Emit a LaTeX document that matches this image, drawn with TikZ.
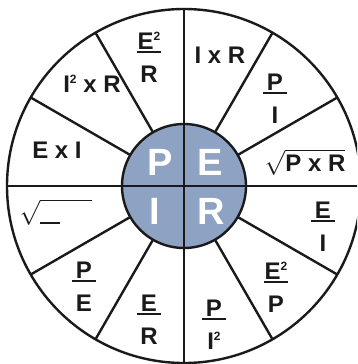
\documentclass[tikz,border=0pt]{standalone}
\usepackage{amsmath}
\usepackage{fontspec}
\setmainfont{Liberation Sans}
\usetikzlibrary{calc}
\definecolor{ohmblue}{HTML}{8EA2C4}
\definecolor{ohmink}{HTML}{1A1A1A}
\newcommand\sqd{\raisebox{8.6pt}{\fontsize{12}{12}\selectfont 2}}
\newcommand\ohmfrac[2]{\begin{tabular}{@{}c@{}}#1\\[-26pt]\rule{24pt}{2pt}\\[-1pt]#2\end{tabular}}

\begin{document}
\begin{tikzpicture}[x=1pt, y=-1pt,
    ring/.style={line width=2.4pt, draw=ohmink},
    lbl/.style={font=\fontsize{24}{30}\selectfont\bfseries, inner sep=0pt, text=ohmink},
    core/.style={font=\fontsize{38}{40}\selectfont\bfseries, inner sep=0pt, text=white}]
  \clip (0,0) rectangle (357,364);
  \coordinate (c) at (184,186);
  % outer ring and its spokes
  \draw[ring] (c) circle[radius=177];
  \foreach \a in {30,60,120,150,210,240,300,330}
    \draw[ring] ($(c)+(\a:62)$) -- ($(c)+(\a:177)$);
  % centre disc
  \fill[ohmblue] (c) circle[radius=62];
  \draw[ring] (c) circle[radius=62];
  \draw[ring] ($(c)+(0,-177)$) -- ($(c)+(0,177)$);
  \draw[ring] ($(c)+(-177,0)$) -- ($(c)+(177,0)$);
  \node[core] (p) at (160,162) {P};
  \node[core] (e) at (210,162) {E};
  \node[core] (i) at (155,211) {I};
  \node[core] (r) at (211,211) {R};
  % formulas, clockwise from the top
  \node[lbl] (ixr)  at (220,55)    {I x R};
  \node[lbl] (pi)   at (275,100.5) {\ohmfrac{P}{I}};
  \node[lbl] (spr)  at (305,162)   {$\sqrt{\text{P x R}}$};
  \node[lbl] (ei)   at (323,228.5) {\ohmfrac{E}{I}};
  \node[lbl] (e2p)  at (276,289.5) {\ohmfrac{E\sqd}{P}};
  \node[lbl] (pi2)  at (214,326.5) {\ohmfrac{P}{I\sqd}};
  \node[lbl] (er)   at (149,321.5) {\ohmfrac{E}{R}};
  \node[lbl] (pe)   at (84,288.5)  {\ohmfrac{P}{E}};
  \node[lbl] (root) at (56,212)    {$\sqrt{\rule{20pt}{1.6pt}\hspace{32pt}\rule{0pt}{20pt}}$};
  \node[lbl] (exi)  at (57,150)    {E x I};
  \node[lbl] (i2r)  at (92,84)     {I\sqd{} x R};
  \node[lbl] (e2r)  at (149,59.5)  {\ohmfrac{E\sqd}{R}};
\end{tikzpicture}
\end{document}
